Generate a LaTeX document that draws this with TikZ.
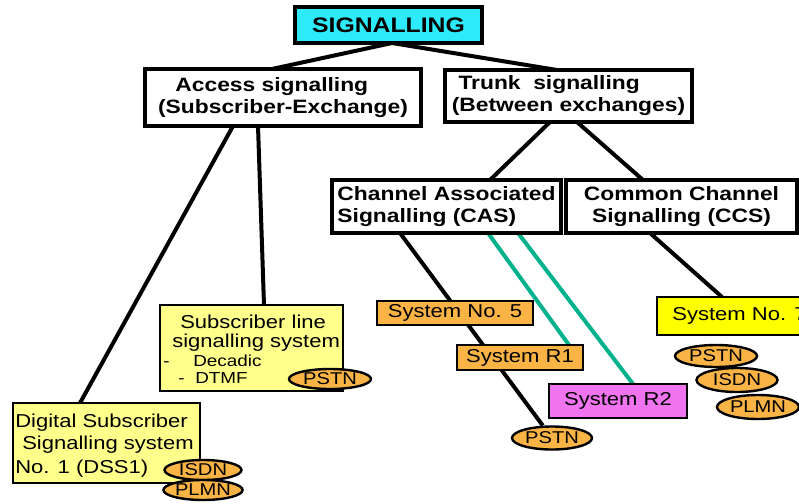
\documentclass[tikz,border=0pt]{standalone}
\usepackage{fontspec}
\setmainfont{Liberation Sans}[FakeStretch=1.18]
\usetikzlibrary{calc,backgrounds,shapes.geometric}
\definecolor{sigcyan}{RGB}{45,235,250}
\definecolor{paleyellow}{RGB}{255,255,140}
\definecolor{sysorange}{RGB}{250,180,70}
\definecolor{sysyellow}{RGB}{255,255,0}
\definecolor{sysmagenta}{RGB}{240,115,240}
\definecolor{linkgreen}{RGB}{0,178,140}
\begin{document}
\begin{tikzpicture}[x=0.75pt,y=-0.75pt,
  wh/.style 2 args={minimum width=#1*0.75pt,minimum height=#2*0.75pt},
  headbox/.style={draw,line width=3pt,fill=white,inner sep=0pt,outer sep=0pt,
    font=\fontsize{14.5}{16.5}\selectfont\bfseries},
  sysbox/.style={draw,line width=2.2pt,inner sep=0pt,outer sep=0pt,
    font=\fontsize{14}{16}\selectfont},
  tag/.style={draw,ellipse,line width=1.8pt,fill=sysorange,inner sep=0pt,
    font=\fontsize{12.8}{14}\selectfont},
  txt/.style={anchor=base west,inner sep=0pt,font=\fontsize{14}{16}\selectfont},
  smalltxt/.style={anchor=base west,inner sep=0pt,font=\fontsize{12}{13}\selectfont},
  link/.style={line width=3pt},
  glink/.style={line width=3pt,draw=linkgreen}]

\useasboundingbox (0,0) rectangle (799,503);
\clip (0,0) rectangle (799,503);

% top of the tree
\node[headbox,wh={187}{36},fill=sigcyan,font=\fontsize{15.75}{18}\selectfont\bfseries]
  (sig) at (388.5,25) {SIGNALLING};
\node[headbox,wh={276}{57},anchor=north west,align=left] (acc) at (145,69)
  {\hspace*{13pt}Access signalling\\(Subscriber-Exchange)};
\node[headbox,wh={247}{52},anchor=north west,align=left] (trk) at (445,70)
  {\hspace*{5pt}Trunk\ \ signalling\\(Between exchanges)};
\node[headbox,wh={229}{53},anchor=north west,align=left] (cas) at (332,180)
  {Channel Associated\\Signalling (CAS)};
\node[headbox,wh={231}{53},anchor=north west,align=center] (ccs) at (566,180)
  {Common Channel\\Signalling (CCS)};

% access signalling systems
\node[sysbox,fill=paleyellow,wh={183}{86},anchor=north west] (slss) at (160,305) {};
\node[txt] (slss1) at (180,328) {Subscriber line};
\node[txt] (slss2) at (172,347) {signalling system};
\node[smalltxt] (slss3) at (163,366) {\makebox[22.5pt][l]{-}Decadic};
\node[smalltxt] (slss4) at (178,383) {\makebox[12.75pt][l]{-}DTMF};
\node[tag,wh={82}{20}] (pstnA) at (330,379) {PSTN};

\node[sysbox,fill=paleyellow,wh={187}{80},anchor=north west] (dss) at (13,403) {};
\node[txt] (dss1) at (15,427) {Digital Subscriber};
\node[txt] (dss2) at (22,449) {Signalling system};
\node[txt] (dss3) at (15,473) {No. 1 (DSS1)};
\node[tag,wh={77}{20}] (isdnA) at (203,470) {ISDN};
\node[tag,wh={77}{20}] (plmnA) at (203,490) {PLMN};

% trunk signalling systems
\node[sysbox,fill=sysorange,wh={156}{24}] (s5) at (455,313) {System No. 5};
\node[sysbox,fill=sysorange,wh={126}{25}] (r1) at (520,357.5) {System R1};
\node[sysbox,fill=sysmagenta,wh={138}{34}] (r2) at (618,401) {System R2};
\node[tag,wh={80}{23}] (pstnB) at (552,438) {PSTN};

\node[sysbox,fill=sysyellow,wh={165}{38},anchor=north west] (s7) at (657,297) {System No. 7};
\node[tag,wh={82}{22}] (pstnC) at (716,356) {PSTN};
\node[tag,wh={81}{24}] (isdnC) at (737,380) {ISDN};
\node[tag,wh={82}{24}] (plmnC) at (758,407) {PLMN};

% connectors, behind the boxes
\begin{scope}[on background layer]
  \fill[white] (0,0) rectangle (799,503);
  \draw[link] ($(sig.south west)+(97,0)$) -- ($(acc.north west)+(127,0)$);
  \draw[link] ($(sig.south west)+(97,0)$) -- ($(trk.north west)+(112,0)$);
  \draw[link] ($(acc.south west)+(88,0)$) -- ($(dss.north west)+(67,0)$);
  \draw[link] ($(acc.south west)+(113,0)$) -- ($(slss.north west)+(104,0)$);
  \draw[link] ($(trk.south west)+(105,0)$) -- ($(cas.north west)+(158,0)$);
  \draw[link] ($(trk.south west)+(132,0)$) -- ($(ccs.north west)+(77,0)$);
  \draw[link] ($(cas.south west)+(68,0)$) -- (pstnB);
  \draw[glink] ($(cas.south west)+(156,0)$) -- ($(r1.north west)+(112,0)$);
  \draw[glink] ($(cas.south west)+(186,0)$) -- ($(r2.north west)+(84,0)$);
  \draw[link] ($(ccs.south west)+(84,0)$) -- ($(s7.north west)+(65,0)$);
\end{scope}
\end{tikzpicture}
\end{document}
